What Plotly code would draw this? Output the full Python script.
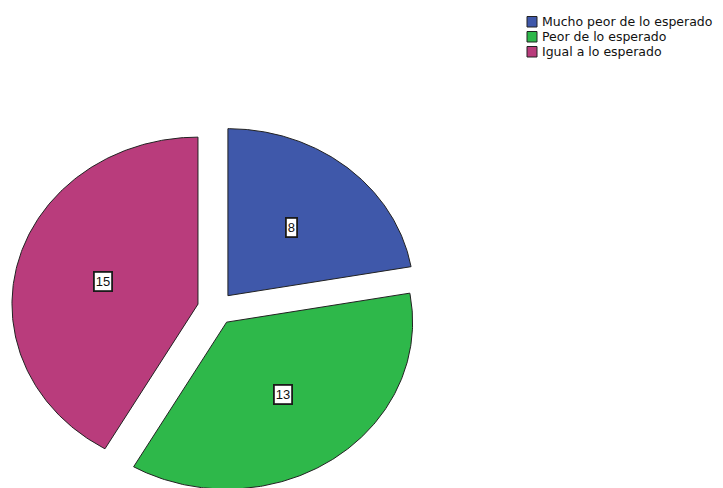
import numpy as np
import plotly.graph_objects as go

# Data
categories = ["Mucho peor de lo esperado", "Peor de lo esperado", "Igual a lo esperado"]
counts = [8, 13, 15]
colors = ["#3F58AA", "#2EB84A", "#B93C7C"]

# Pie geometry (unit radius; the axis ranges set the on-screen proportions)
PULL = 0.1          # exploded distance of each slice, in radii
LABEL_R = 0.53      # value-label distance from the slice apex, in radii
X_RANGE = [-1.161, 2.726]
Y_RANGE = [-1.075, 1.847]

fig = go.Figure()

total = float(sum(counts))
start = 0.0  # degrees, clockwise from 12 o'clock
annotations = []
for name, value, color in zip(categories, counts, colors):
    span = 360.0 * value / total
    mid = np.radians(start + span / 2)
    ax, ay = PULL * np.sin(mid), PULL * np.cos(mid)
    t = np.radians(np.linspace(start, start + span, 200))
    xs = np.concatenate([[ax], ax + np.sin(t), [ax]])
    ys = np.concatenate([[ay], ay + np.cos(t), [ay]])
    fig.add_trace(go.Scatter(
        x=xs, y=ys, mode="lines", fill="toself",
        fillcolor=color, line=dict(color="#222222", width=1),
        name=name, showlegend=False, hoverinfo="name",
    ))
    annotations.append(dict(
        x=ax + LABEL_R * np.sin(mid), y=ay + LABEL_R * np.cos(mid),
        xref="x", yref="y", text=str(value), showarrow=False,
        font=dict(family="Liberation Sans, Arial, sans-serif", size=13, color="#111111"),
        bgcolor="white", bordercolor="#1a1a1a", borderwidth=1.8, borderpad=1,
    ))
    start += span

# Legend: coloured squares with labels, top right
shapes = []
LEG_X = 527 / 723
LEG_W = 10 / 723
LEG_TOP = 1 - 16.5 / 488
LEG_STEP = 15 / 488
LEG_H = 10.5 / 488
for i, (name, color) in enumerate(zip(categories, colors)):
    y1 = LEG_TOP - i * LEG_STEP
    shapes.append(dict(
        type="rect", xref="paper", yref="paper",
        x0=LEG_X, x1=LEG_X + LEG_W, y0=y1 - LEG_H, y1=y1,
        fillcolor=color, line=dict(color="#222222", width=1),
    ))
    annotations.append(dict(
        x=541 / 723, y=y1 - LEG_H / 2, xref="paper", yref="paper",
        xanchor="left", yanchor="middle", text=name, showarrow=False,
        borderpad=0,
        font=dict(family="DejaVu Sans, sans-serif", size=12.5, color="#111111"),
    ))

fig.update_layout(
    width=723, height=488,
    margin=dict(l=0, r=0, t=0, b=0),
    paper_bgcolor="white", plot_bgcolor="white",
    xaxis=dict(range=X_RANGE, visible=False, fixedrange=True),
    yaxis=dict(range=Y_RANGE, visible=False, fixedrange=True),
    shapes=shapes, annotations=annotations,
    showlegend=False,
)

fig.write_html("out.html")
